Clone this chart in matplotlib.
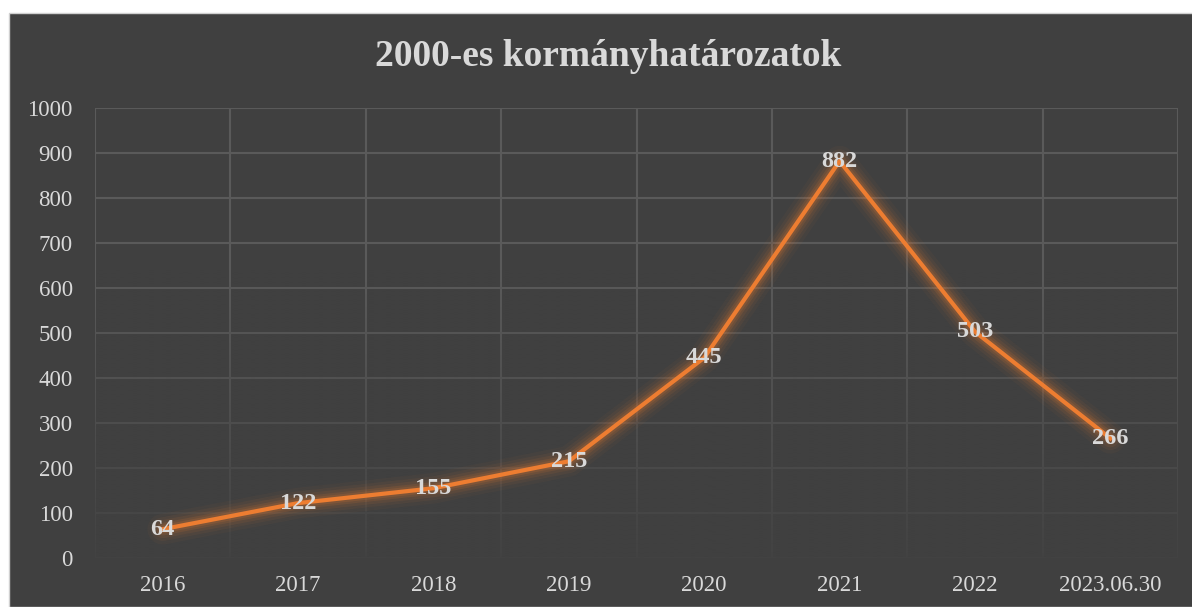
import numpy as np
import matplotlib.pyplot as plt
from matplotlib.patches import Rectangle

# Data
categories = ['2016', '2017', '2018', '2019', '2020', '2021', '2022', '2023.06.30']
values = [64, 122, 155, 215, 445, 882, 503, 266]

bg = '#404040'
grid_col = '#5a5a5a'
text_col = '#d9d9d9'
line_col = '#ED7D31'

plt.rcParams['font.family'] = ['Liberation Serif', 'DejaVu Serif']

fig = plt.figure(figsize=(11.92, 6.07), dpi=100)
fig.patch.set_facecolor('white')
W, H = 1192, 607
fig.patches.append(Rectangle((9 / W, 0), 1, (H - 13) / H, transform=fig.transFigure,
                             facecolor=bg, edgecolor='#d0d0d0', linewidth=1, zorder=-5))

ax = fig.add_axes([95 / W, (H - 558) / H, (1178 - 95) / W, (558 - 108) / H])
ax.set_facecolor(bg)
x = np.arange(len(categories))

# Grid
ax.set_xlim(-0.5, len(categories) - 0.5)
ax.set_ylim(0, 1000)
ax.set_yticks(np.arange(0, 1001, 100))
ax.set_xticks(x)
ax.set_xticklabels(categories)
ax.set_xticks(np.arange(-0.5, len(categories)), minor=True)
ax.set_axisbelow(True)
ax.grid(axis='y', which='major', color=grid_col, linewidth=1.5)
ax.grid(axis='x', which='minor', color=grid_col, linewidth=1.5)
ax.tick_params(which='both', length=0, colors=text_col, labelsize=16.5)
ax.tick_params(axis='x', pad=12)
ax.tick_params(axis='y', pad=16)
for s in ax.spines.values():
    s.set_visible(False)

# fade the lower grid
grad = np.zeros((100, 1, 4))
rgb = np.array([0x40, 0x40, 0x40]) / 255
grad[:, 0, :3] = rgb
grad[:, 0, 3] = np.clip(np.linspace(0.9, -0.5, 100), 0, 1)
ax.imshow(grad, extent=[-0.5, len(categories) - 0.5, 0, 1000], origin='lower',
          aspect='auto', zorder=1, interpolation='bilinear')

# Glow and line
for lw, a in [(22, 0.04), (17, 0.06), (13, 0.08), (9, 0.12), (6, 0.15)]:
    ax.plot(x, values, color=line_col, linewidth=lw, alpha=a, solid_capstyle='round',
            solid_joinstyle='round', zorder=2)
ax.plot(x, values, color=line_col, linewidth=3, solid_joinstyle='round', zorder=3)

for xi, v in zip(x, values):
    ax.text(xi, v, str(v), ha='center', va='center', color=text_col,
            fontsize=17.5, fontweight='bold', zorder=4)

fig.text(0.51, (H - 57) / H, '2000-es kormányhatározatok', ha='center', va='center',
         color=text_col, fontsize=27, fontweight='bold')

fig.savefig('out.png', dpi=100, facecolor=fig.get_facecolor())
